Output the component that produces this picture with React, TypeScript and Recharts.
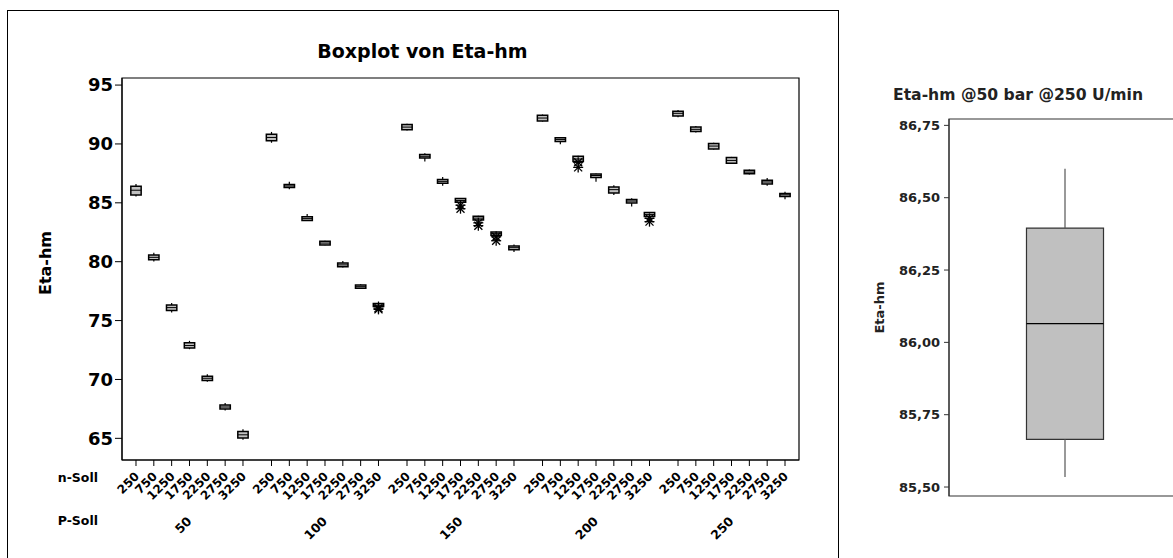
import React from 'react'
import {
  ComposedChart,
  Scatter,
  XAxis,
  YAxis,
  ReferenceArea,
  ReferenceLine,
} from 'recharts'

// Boxplot von Eta-hm, grouped by P-Soll (bar) and n-Soll (U/min)
const nSoll = [250, 750, 1250, 1750, 2250, 2750, 3250]
const pSoll = [50, 100, 150, 200, 250]
const mainTicks = [65, 70, 75, 80, 85, 90, 95]

// one value per n-Soll / P-Soll cell
const whiskerLow = [
  85.54, 80.02, 75.68, 72.57, 69.8, 67.37, 64.88,
  90.1, 86.16, 83.46, 81.4, 79.5, 77.72, 76.16,
  91.15, 88.5, 86.45, 85.02, 83.52, 82.2, 80.82,
  91.9, 89.98, 88.47, 86.8, 85.67, 84.68, 83.8,
  92.27, 90.98, 89.53, 88.32, 87.4, 86.45, 85.3,
]
const q1 = [
  85.67, 80.17, 75.86, 72.67, 69.92, 67.49, 65.02,
  90.27, 86.3, 83.5, 81.42, 79.57, 77.74, 76.2,
  91.2, 88.8, 86.67, 85.05, 83.55, 82.23, 81.02,
  91.95, 90.21, 88.5, 87.15, 85.83, 84.98, 83.84,
  92.38, 91.06, 89.58, 88.37, 87.46, 86.59, 85.53,
]
const median = [
  86.07, 80.37, 76.1, 72.88, 70.1, 67.66, 65.3,
  90.55, 86.43, 83.66, 81.58, 79.73, 77.88, 76.3,
  91.43, 88.95, 86.82, 85.2, 83.7, 82.38, 81.19,
  92.2, 90.38, 88.72, 87.32, 86.12, 85.15, 84.0,
  92.6, 91.24, 89.82, 88.6, 87.61, 86.77, 85.68,
]
const q3 = [
  86.4, 80.57, 76.32, 73.12, 70.28, 67.84, 65.58,
  90.82, 86.56, 83.82, 81.74, 79.9, 78.03, 76.45,
  91.66, 89.1, 86.98, 85.36, 83.86, 82.53, 81.34,
  92.43, 90.52, 88.95, 87.45, 86.35, 85.28, 84.17,
  92.78, 91.44, 90.03, 88.84, 87.76, 86.92, 85.79,
]
const whiskerHigh = [
  86.6, 80.75, 76.5, 73.28, 70.45, 68.0, 65.78,
  91.02, 86.78, 84.05, 81.78, 80.05, 78.08, 76.62,
  91.72, 89.2, 87.2, 85.4, 83.9, 82.57, 81.47,
  92.5, 90.6, 89.0, 87.5, 86.5, 85.38, 84.22,
  92.88, 91.52, 90.1, 88.9, 87.82, 87.1, 85.95,
]

// outliers (asterisks): cell index and value
const outlierCell = [13, 13, 17, 17, 18, 18, 19, 19, 23, 23, 27, 27]
const outlierValue = [76.05, 75.95, 84.8, 84.5, 83.3, 83.06, 82.12, 81.78, 88.44, 88.01, 83.68, 83.4]

// detail panel: P-Soll 50, n-Soll 250
const detailStats = { low: 85.535, q1: 85.665, median: 86.065, q3: 86.395, high: 86.6 }
const detailTicks = [85.5, 85.75, 86.0, 86.25, 86.5, 86.75]

const FONT = '"DejaVu Sans", Verdana, sans-serif'
const GROUP_STEP = 7.6
const HALF = 0.29
const xPos = (i: number) => Math.floor(i / nSoll.length) * GROUP_STEP + (i % nSoll.length)

const boxes = median.map((m, i) => ({
  x: xPos(i),
  lo: whiskerLow[i],
  q1: q1[i],
  med: m,
  q3: q3[i],
  hi: whiskerHigh[i],
}))
const cellTicks = median.map((_, i) => xPos(i))
const groupTicks = pSoll.map((_, g) => g * GROUP_STEP + 3)
const outliers = outlierCell.map((c, k) => ({ x: xPos(c), y: outlierValue[k] }))
const groupAnchors = groupTicks.map((x) => ({ x, y: 80 }))
const X_DOMAIN = [-0.785, 4 * GROUP_STEP + 6 + 0.785]

const NSollTick = (props: any) => {
  const { x, y, payload } = props
  const idx = cellTicks.findIndex((t) => Math.abs(t - payload.value) < 1e-6)
  const tx = x + 4
  const ty = y + 9
  return (
    <text
      x={tx}
      y={ty}
      transform={`rotate(-45, ${tx}, ${ty})`}
      textAnchor="end"
      fontSize={12}
      fontWeight="bold"
      fontFamily={FONT}
      fill="#000"
    >
      {idx >= 0 ? nSoll[idx % nSoll.length] : ''}
    </text>
  )
}

const PSollTick = (props: any) => {
  const { x, y, payload } = props
  const g = groupTicks.findIndex((t) => Math.abs(t - payload.value) < 1e-6)
  const tx = x + 3
  const ty = y + 4
  return (
    <text
      x={tx}
      y={ty}
      transform={`rotate(-45, ${tx}, ${ty})`}
      textAnchor="end"
      fontSize={12.5}
      fontWeight="bold"
      fontFamily={FONT}
      fill="#000"
    >
      {g >= 0 ? pSoll[g] : ''}
    </text>
  )
}

const rowLabel = (text: string, dy: number) => (props: any) => {
  const vb = props.viewBox || { x: 0, y: 0 }
  return (
    <text
      x={vb.x - 24}
      y={vb.y + dy}
      textAnchor="end"
      fontSize={12.5}
      fontWeight="bold"
      fontFamily={FONT}
      fill="#000"
    >
      {text}
    </text>
  )
}

const Asterisk = (props: any) => {
  const { cx, cy } = props
  const r = 5
  const d = r * 0.8
  return (
    <g stroke="#000" strokeWidth={1.3}>
      <line x1={cx - r} y1={cy} x2={cx + r} y2={cy} />
      <line x1={cx} y1={cy - r} x2={cx} y2={cy + r} />
      <line x1={cx - d} y1={cy - d} x2={cx + d} y2={cy + d} />
      <line x1={cx - d} y1={cy + d} x2={cx + d} y2={cy - d} />
    </g>
  )
}

const Nothing = () => <g />

function MainChart() {
  return (
    <ComposedChart width={838} height={558} margin={{ top: 78, right: 39, bottom: 0, left: 0 }}>
      <XAxis
        type="number"
        dataKey="x"
        domain={X_DOMAIN}
        allowDataOverflow
        ticks={cellTicks}
        interval={0}
        tick={<NSollTick />}
        tickSize={6}
        height={50}
        stroke="#000"
        label={{ content: rowLabel('n-Soll', 22) }}
      />
      <XAxis
        xAxisId="p"
        type="number"
        dataKey="x"
        domain={X_DOMAIN}
        allowDataOverflow
        ticks={groupTicks}
        interval={0}
        tick={<PSollTick />}
        tickLine={false}
        axisLine={false}
        height={48}
        label={{ content: rowLabel('P-Soll', 15) }}
      />
      <YAxis
        type="number"
        dataKey="y"
        domain={[63.16, 95.6]}
        allowDataOverflow
        ticks={mainTicks}
        interval={0}
        width={122}
        tickSize={7}
        tickMargin={2}
        stroke="#000"
        tick={{ fontSize: 18, fontWeight: 'bold', fontFamily: FONT, fill: '#000' }}
        label={{
          value: 'Eta-hm',
          angle: -90,
          position: 'insideLeft',
          offset: 45,
          dy: -6,
          style: { fontSize: 16, fontWeight: 'bold', fontFamily: FONT, fill: '#000', textAnchor: 'middle' },
        }}
      />
      <ReferenceArea
        x1={X_DOMAIN[0]}
        x2={X_DOMAIN[1]}
        y1={63.16}
        y2={95.6}
        fill="none"
        stroke="#000"
        strokeWidth={1.2}
        ifOverflow="visible"
      />
      {boxes.map((b, i) => (
        <React.Fragment key={i}>
          <ReferenceLine segment={[{ x: b.x, y: b.lo }, { x: b.x, y: b.q1 }]} stroke="#000" strokeWidth={1.2} />
          <ReferenceLine segment={[{ x: b.x, y: b.q3 }, { x: b.x, y: b.hi }]} stroke="#000" strokeWidth={1.2} />
          <ReferenceArea
            x1={b.x - HALF}
            x2={b.x + HALF}
            y1={b.q1}
            y2={b.q3}
            fill="#c0c0c0"
            fillOpacity={1}
            stroke="#000"
            strokeWidth={1.5}
          />
          <ReferenceLine
            segment={[{ x: b.x - HALF, y: b.med }, { x: b.x + HALF, y: b.med }]}
            stroke="#000"
            strokeWidth={1}
          />
        </React.Fragment>
      ))}
      <Scatter data={outliers} shape={<Asterisk />} isAnimationActive={false} />
      <Scatter xAxisId="p" data={groupAnchors} shape={<Nothing />} isAnimationActive={false} />
    </ComposedChart>
  )
}

function DetailChart() {
  const s = detailStats
  return (
    <ComposedChart width={343} height={558} margin={{ top: 119, right: 0, bottom: 62, left: 0 }}>
      <XAxis type="number" dataKey="x" domain={[0, 2]} hide />
      <YAxis
        type="number"
        dataKey="y"
        domain={[85.469, 86.772]}
        allowDataOverflow
        ticks={detailTicks}
        interval={0}
        width={111}
        tickSize={5}
        tickMargin={4}
        stroke="#333"
        tickFormatter={(v: number) => v.toFixed(2).replace('.', ',')}
        tick={{ fontSize: 13, fontWeight: 'bold', fontFamily: FONT, fill: '#222' }}
        label={{
          value: 'Eta-hm',
          angle: -90,
          position: 'insideLeft',
          offset: 41,
          style: { fontSize: 13, fontWeight: 'bold', fontFamily: FONT, fill: '#222', textAnchor: 'middle' },
        }}
      />
      <ReferenceArea
        x1={0}
        x2={2}
        y1={85.469}
        y2={86.772}
        fill="none"
        stroke="#333"
        strokeWidth={1.2}
        ifOverflow="visible"
      />
      <ReferenceLine segment={[{ x: 1, y: s.low }, { x: 1, y: s.q1 }]} stroke="#555" strokeWidth={1.2} />
      <ReferenceLine segment={[{ x: 1, y: s.q3 }, { x: 1, y: s.high }]} stroke="#555" strokeWidth={1.2} />
      <ReferenceArea
        x1={1 - 0.332}
        x2={1 + 0.332}
        y1={s.q1}
        y2={s.q3}
        fill="#c0c0c0"
        fillOpacity={1}
        stroke="#333"
        strokeWidth={1.2}
      />
      <ReferenceLine
        segment={[{ x: 1 - 0.332, y: s.median }, { x: 1 + 0.332, y: s.median }]}
        stroke="#000"
        strokeWidth={1.2}
      />
      <Scatter data={[{ x: 1, y: s.median }]} shape={<Nothing />} isAnimationActive={false} />
    </ComposedChart>
  )
}

export default function App() {
  return (
    <div
      style={{
        position: 'absolute',
        left: 0,
        top: 0,
        width: 1173,
        height: 558,
        overflow: 'hidden',
        background: '#fff',
        fontFamily: FONT,
      }}
    >
      <div
        style={{
          position: 'absolute',
          left: 7,
          top: 10,
          width: 830,
          height: 600,
          border: '1px solid #000',
        }}
      />
      <div
        style={{
          position: 'absolute',
          left: 7,
          top: 40,
          width: 831,
          textAlign: 'center',
          fontSize: 19,
          fontWeight: 'bold',
          color: '#000',
        }}
      >
        Boxplot von Eta-hm
      </div>
      <div style={{ position: 'absolute', left: 0, top: 0 }}>
        <MainChart />
      </div>
      <div
        style={{
          position: 'absolute',
          left: 893,
          top: 86,
          width: 270,
          fontSize: 15.6,
          fontWeight: 'bold',
          color: '#222',
          whiteSpace: 'nowrap',
        }}
      >
        Eta-hm @50 bar @250 U/min
      </div>
      <div style={{ position: 'absolute', left: 838, top: 0 }}>
        <DetailChart />
      </div>
    </div>
  )
}
